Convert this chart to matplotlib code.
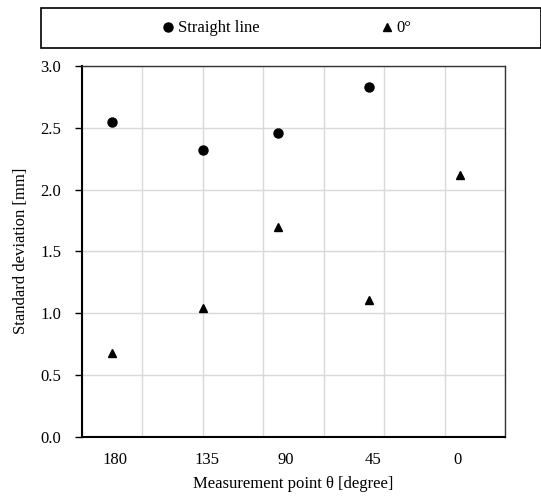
import matplotlib
matplotlib.use("Agg")
import matplotlib.pyplot as plt
from matplotlib.patches import Rectangle

plt.rcParams['font.family'] = ['Liberation Serif', 'DejaVu Serif']

# Data
categories = ['180', '135', '90', '45', '0']
x_straight = [0.5, 2.0, 3.25, 4.75]
y_straight = [2.55, 2.32, 2.46, 2.83]
x_zero = [0.5, 2.0, 3.25, 4.75, 6.25]
y_zero = [0.68, 1.04, 1.70, 1.11, 2.12]
label_pos = [0.55, 2.07, 3.37, 4.82, 6.21]
y_ticks = [0.0, 0.5, 1.0, 1.5, 2.0, 2.5, 3.0]

FS = 12

fig = plt.figure(figsize=(5.41, 4.97), dpi=100)
ax = fig.add_axes([82/541, 1-436.7/497, (505-82)/541, (436.7-66)/497])

ax.plot(x_straight, y_straight, 'o', color='black', ms=6.5, label='Straight line', zorder=3)
ax.plot(x_zero, y_zero, '^', color='black', ms=6.3, label='0°', zorder=3)

ax.set_xlim(0, 7)
ax.set_ylim(0, 3.0)
ax.set_xticks(range(0, 8))
ax.set_xticklabels([])
ax.set_xticks(label_pos, minor=True)
ax.set_xticklabels(categories, minor=True, fontsize=FS)
ax.tick_params(axis='x', which='both', length=0, pad=11)
ax.set_yticks(y_ticks)
ax.set_yticklabels([f'{v:.1f}' for v in y_ticks], fontsize=FS)
ax.tick_params(axis='y', length=5, width=1, pad=10)
ax.grid(True, which='major', color='#d9d9d9', linewidth=1)
ax.set_axisbelow(True)

for s in ['left', 'bottom']:
    ax.spines[s].set_linewidth(1.5)
    ax.spines[s].set_color('black')
for s in ['top', 'right']:
    ax.spines[s].set_linewidth(1.0)
    ax.spines[s].set_color('#333333')

ax.set_xlabel('Measurement point θ [degree]', fontsize=FS, labelpad=6)
fig.text(21/541, 1-251/497, 'Standard deviation [mm]', rotation=90,
         ha='center', va='center', fontsize=FS)

# legend box
fig.patches.append(Rectangle((41/541, 1-48/497), 500/541, 39.5/497,
                             transform=fig.transFigure, fill=False,
                             edgecolor='black', linewidth=1.2))
handles, labels = ax.get_legend_handles_labels()
fig.legend(handles, labels, loc='center', bbox_to_anchor=(287.5/541, 1-28.5/497),
           ncol=2, frameon=False, fontsize=FS, handlelength=0.6,
           handletextpad=0.25, columnspacing=7.4, borderaxespad=0)

fig.savefig('out.png', dpi=100)
